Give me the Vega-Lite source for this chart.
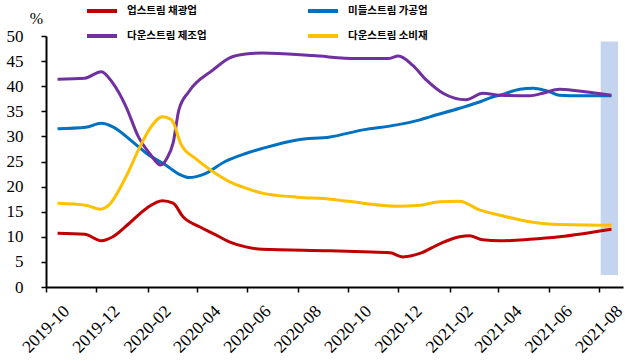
{
  "$schema": "https://vega.github.io/schema/vega-lite/v6.json",
  "width": 577,
  "height": 251,
  "autosize": "none",
  "padding": {"left": 46, "top": 36, "right": 2, "bottom": 74},
  "background": "white",
  "config": {
    "view": {"stroke": null},
    "axis": {"grid": false, "domainColor": "#000", "tickColor": "#000", "labelColor": "#000", "titleColor": "#000", "labelFont": "Liberation Serif", "titleFont": "Liberation Serif"}
  },
  "layer": [
    {
      "data": {"values": [{"start": "2021-08-03", "end": "2021-08-24", "lo": 2.4, "hi": 48.9}]},
      "mark": {"type": "rect", "color": "#C5D4EE"},
      "encoding": {
        "x": {
          "field": "start", "type": "temporal",
          "scale": {"domain": ["2019-10-01", "2021-08-30"]},
          "axis": {
            "values": ["2019-10-01", "2019-12-01", "2020-02-01", "2020-04-01", "2020-06-01", "2020-08-01", "2020-10-01", "2020-12-01", "2021-02-01", "2021-04-01", "2021-06-01", "2021-08-01"],
            "format": "%Y-%m", "labelAngle": -45, "labelAlign": "right", "labelBaseline": "top",
            "labelFontSize": 17.5, "labelPadding": 10, "labelOffset": 14, "tickSize": 5, "tickWidth": 1.5, "domainWidth": 2,
            "title": null, "labelOverlap": false, "labelBound": false
          }
        },
        "x2": {"field": "end"},
        "y": {
          "field": "lo", "type": "quantitative",
          "scale": {"domain": [0, 50], "nice": false},
          "axis": {
            "values": [0, 5, 10, 15, 20, 25, 30, 35, 40, 45, 50],
            "labelFontSize": 17, "labelPadding": 18, "tickSize": 5, "tickWidth": 1.5, "domainWidth": 2,
            "labelOverlap": false, "labelBound": false,
            "title": "%", "titleAngle": 0, "titleFontSize": 16, "titleFontWeight": "normal",
            "titleAlign": "center", "titleBaseline": "middle", "titleX": -10, "titleY": -18
          }
        },
        "y2": {"field": "hi"}
      }
    },
    {
      "data": {"values": [
        {"date": "2019-10-15", "series": "업스트림 채광업", "value": 10.7},
        {"date": "2019-11-17", "series": "업스트림 채광업", "value": 10.5},
        {"date": "2019-12-07", "series": "업스트림 채광업", "value": 9.2},
        {"date": "2019-12-21", "series": "업스트림 채광업", "value": 10.0},
        {"date": "2020-01-10", "series": "업스트림 채광업", "value": 12.7},
        {"date": "2020-01-31", "series": "업스트림 채광업", "value": 15.7},
        {"date": "2020-02-19", "series": "업스트림 채광업", "value": 17.2},
        {"date": "2020-03-03", "series": "업스트림 채광업", "value": 16.7},
        {"date": "2020-03-15", "series": "업스트림 채광업", "value": 14.0},
        {"date": "2020-04-04", "series": "업스트림 채광업", "value": 12.0},
        {"date": "2020-04-20", "series": "업스트림 채광업", "value": 10.7},
        {"date": "2020-05-10", "series": "업스트림 채광업", "value": 9.0},
        {"date": "2020-05-30", "series": "업스트림 채광업", "value": 8.0},
        {"date": "2020-06-19", "series": "업스트림 채광업", "value": 7.5},
        {"date": "2020-09-09", "series": "업스트림 채광업", "value": 7.2},
        {"date": "2020-10-19", "series": "업스트림 채광업", "value": 7.0},
        {"date": "2020-11-21", "series": "업스트림 채광업", "value": 6.8},
        {"date": "2020-12-06", "series": "업스트림 채광업", "value": 6.0},
        {"date": "2020-12-27", "series": "업스트림 채광업", "value": 6.7},
        {"date": "2021-01-20", "series": "업스트림 채광업", "value": 8.6},
        {"date": "2021-02-13", "series": "업스트림 채광업", "value": 10.0},
        {"date": "2021-02-25", "series": "업스트림 채광업", "value": 10.2},
        {"date": "2021-03-13", "series": "업스트림 채광업", "value": 9.4},
        {"date": "2021-04-03", "series": "업스트림 채광업", "value": 9.2},
        {"date": "2021-05-09", "series": "업스트림 채광업", "value": 9.5},
        {"date": "2021-06-14", "series": "업스트림 채광업", "value": 10.0},
        {"date": "2021-08-16", "series": "업스트림 채광업", "value": 11.5},

        {"date": "2019-10-15", "series": "미들스트림 가공업", "value": 31.5},
        {"date": "2019-11-18", "series": "미들스트림 가공업", "value": 31.8},
        {"date": "2019-12-07", "series": "미들스트림 가공업", "value": 32.6},
        {"date": "2019-12-21", "series": "미들스트림 가공업", "value": 31.9},
        {"date": "2020-01-14", "series": "미들스트림 가공업", "value": 28.9},
        {"date": "2020-01-31", "series": "미들스트림 가공업", "value": 26.6},
        {"date": "2020-02-23", "series": "미들스트림 가공업", "value": 24.3},
        {"date": "2020-03-10", "series": "미들스트림 가공업", "value": 22.5},
        {"date": "2020-03-22", "series": "미들스트림 가공업", "value": 21.8},
        {"date": "2020-04-11", "series": "미들스트림 가공업", "value": 22.6},
        {"date": "2020-05-05", "series": "미들스트림 가공업", "value": 25.0},
        {"date": "2020-05-30", "series": "미들스트림 가공업", "value": 26.6},
        {"date": "2020-06-19", "series": "미들스트림 가공업", "value": 27.6},
        {"date": "2020-07-31", "series": "미들스트림 가공업", "value": 29.3},
        {"date": "2020-09-09", "series": "미들스트림 가공업", "value": 29.9},
        {"date": "2020-10-19", "series": "미들스트림 가공업", "value": 31.3},
        {"date": "2020-11-29", "series": "미들스트림 가공업", "value": 32.3},
        {"date": "2020-12-27", "series": "미들스트림 가공업", "value": 33.3},
        {"date": "2021-01-08", "series": "미들스트림 가공업", "value": 33.9},
        {"date": "2021-02-13", "series": "미들스트림 가공업", "value": 35.6},
        {"date": "2021-03-10", "series": "미들스트림 가공업", "value": 36.9},
        {"date": "2021-03-26", "series": "미들스트림 가공업", "value": 37.9},
        {"date": "2021-04-03", "series": "미들스트림 가공업", "value": 38.2},
        {"date": "2021-04-27", "series": "미들스트림 가공업", "value": 39.4},
        {"date": "2021-05-13", "series": "미들스트림 가공업", "value": 39.6},
        {"date": "2021-06-02", "series": "미들스트림 가공업", "value": 38.9},
        {"date": "2021-06-14", "series": "미들스트림 가공업", "value": 38.2},
        {"date": "2021-07-09", "series": "미들스트림 가공업", "value": 38.1},
        {"date": "2021-08-16", "series": "미들스트림 가공업", "value": 38.1},

        {"date": "2019-10-15", "series": "다운스트림 제조업", "value": 41.4},
        {"date": "2019-11-17", "series": "다운스트림 제조업", "value": 41.6},
        {"date": "2019-12-07", "series": "다운스트림 제조업", "value": 42.9},
        {"date": "2019-12-21", "series": "다운스트림 제조업", "value": 40.6},
        {"date": "2020-01-06", "series": "다운스트림 제조업", "value": 35.9},
        {"date": "2020-01-21", "series": "다운스트림 제조업", "value": 29.9},
        {"date": "2020-02-04", "series": "다운스트림 제조업", "value": 26.5},
        {"date": "2020-02-17", "series": "다운스트림 제조업", "value": 24.3},
        {"date": "2020-02-24", "series": "다운스트림 제조업", "value": 25.5},
        {"date": "2020-03-03", "series": "다운스트림 제조업", "value": 28.7},
        {"date": "2020-03-10", "series": "다운스트림 제조업", "value": 35.3},
        {"date": "2020-03-22", "series": "다운스트림 제조업", "value": 38.9},
        {"date": "2020-04-20", "series": "다운스트림 제조업", "value": 43.2},
        {"date": "2020-05-10", "series": "다운스트림 제조업", "value": 45.6},
        {"date": "2020-05-30", "series": "다운스트림 제조업", "value": 46.4},
        {"date": "2020-06-19", "series": "다운스트림 제조업", "value": 46.6},
        {"date": "2020-08-19", "series": "다운스트림 제조업", "value": 46.1},
        {"date": "2020-10-11", "series": "다운스트림 제조업", "value": 45.5},
        {"date": "2020-11-18", "series": "다운스트림 제조업", "value": 45.5},
        {"date": "2020-12-01", "series": "다운스트림 제조업", "value": 46.0},
        {"date": "2020-12-18", "series": "다운스트림 제조업", "value": 44.2},
        {"date": "2021-01-04", "series": "다운스트림 제조업", "value": 41.2},
        {"date": "2021-01-24", "series": "다운스트림 제조업", "value": 38.6},
        {"date": "2021-02-21", "series": "다운스트림 제조업", "value": 37.3},
        {"date": "2021-03-13", "series": "다운스트림 제조업", "value": 38.6},
        {"date": "2021-04-03", "series": "다운스트림 제조업", "value": 38.2},
        {"date": "2021-05-09", "series": "다운스트림 제조업", "value": 38.1},
        {"date": "2021-05-25", "series": "다운스트림 제조업", "value": 38.6},
        {"date": "2021-06-14", "series": "다운스트림 제조업", "value": 39.4},
        {"date": "2021-07-05", "series": "다운스트림 제조업", "value": 39.1},
        {"date": "2021-08-16", "series": "다운스트림 제조업", "value": 38.2},

        {"date": "2019-10-15", "series": "다운스트림 소비재", "value": 16.7},
        {"date": "2019-11-18", "series": "다운스트림 소비재", "value": 16.3},
        {"date": "2019-12-06", "series": "다운스트림 소비재", "value": 15.5},
        {"date": "2019-12-16", "series": "다운스트림 소비재", "value": 16.3},
        {"date": "2020-01-06", "series": "다운스트림 소비재", "value": 22.0},
        {"date": "2020-01-21", "series": "다운스트림 소비재", "value": 27.3},
        {"date": "2020-02-04", "series": "다운스트림 소비재", "value": 31.6},
        {"date": "2020-02-19", "series": "다운스트림 소비재", "value": 33.9},
        {"date": "2020-03-01", "series": "다운스트림 소비재", "value": 33.3},
        {"date": "2020-03-13", "series": "다운스트림 소비재", "value": 28.3},
        {"date": "2020-03-30", "series": "다운스트림 소비재", "value": 25.6},
        {"date": "2020-04-20", "series": "다운스트림 소비재", "value": 23.0},
        {"date": "2020-05-10", "series": "다운스트림 소비재", "value": 21.0},
        {"date": "2020-05-30", "series": "다운스트림 소비재", "value": 19.7},
        {"date": "2020-06-19", "series": "다운스트림 소비재", "value": 18.7},
        {"date": "2020-07-31", "series": "다운스트림 소비재", "value": 17.9},
        {"date": "2020-09-09", "series": "다운스트림 소비재", "value": 17.5},
        {"date": "2020-10-19", "series": "다운스트림 소비재", "value": 16.7},
        {"date": "2020-11-29", "series": "다운스트림 소비재", "value": 16.1},
        {"date": "2020-12-27", "series": "다운스트림 소비재", "value": 16.3},
        {"date": "2021-01-20", "series": "다운스트림 소비재", "value": 17.0},
        {"date": "2021-02-13", "series": "다운스트림 소비재", "value": 17.1},
        {"date": "2021-03-10", "series": "다운스트림 소비재", "value": 15.3},
        {"date": "2021-04-03", "series": "다운스트림 소비재", "value": 14.3},
        {"date": "2021-05-09", "series": "다운스트림 소비재", "value": 13.0},
        {"date": "2021-06-06", "series": "다운스트림 소비재", "value": 12.5},
        {"date": "2021-08-16", "series": "다운스트림 소비재", "value": 12.3}
      ]},
      "mark": {"type": "line", "interpolate": "monotone", "strokeWidth": 3},
      "encoding": {
        "x": {
          "field": "date", "type": "temporal",
          "scale": {"domain": ["2019-10-01", "2021-08-30"]},
          "axis": {
            "values": ["2019-10-01", "2019-12-01", "2020-02-01", "2020-04-01", "2020-06-01", "2020-08-01", "2020-10-01", "2020-12-01", "2021-02-01", "2021-04-01", "2021-06-01", "2021-08-01"],
            "format": "%Y-%m", "labelAngle": -45, "labelAlign": "right", "labelBaseline": "top",
            "labelFontSize": 17.5, "labelPadding": 10, "labelOffset": 14, "tickSize": 5, "tickWidth": 1.5, "domainWidth": 2,
            "title": null, "labelOverlap": false, "labelBound": false
          }
        },
        "y": {
          "field": "value", "type": "quantitative",
          "scale": {"domain": [0, 50], "nice": false},
          "axis": {
            "values": [0, 5, 10, 15, 20, 25, 30, 35, 40, 45, 50],
            "labelFontSize": 17, "labelPadding": 18, "tickSize": 5, "tickWidth": 1.5, "domainWidth": 2,
            "labelOverlap": false, "labelBound": false,
            "title": "%", "titleAngle": 0, "titleFontSize": 16, "titleFontWeight": "normal",
            "titleAlign": "center", "titleBaseline": "middle", "titleX": -10, "titleY": -18
          }
        },
        "color": {
          "field": "series", "type": "nominal",
          "scale": {
            "domain": ["업스트림 채광업", "미들스트림 가공업", "다운스트림 제조업", "다운스트림 소비재"],
            "range": ["#C00000", "#0070C0", "#7030A0", "#FFC000"]
          },
          "legend": {
            "title": null, "orient": "none", "legendX": 39, "legendY": -42,
            "direction": "horizontal", "columns": 2, "columnPadding": 93, "rowPadding": -19,
            "symbolType": "stroke", "symbolSize": 900, "symbolStrokeWidth": 4,
            "labelFont": "Noto Sans CJK KR", "labelFontSize": 10.5, "labelFontWeight": "bold",
            "labelOffset": 8, "labelColor": "#000", "labelLimit": 200
          }
        }
      }
    }
  ]
}
